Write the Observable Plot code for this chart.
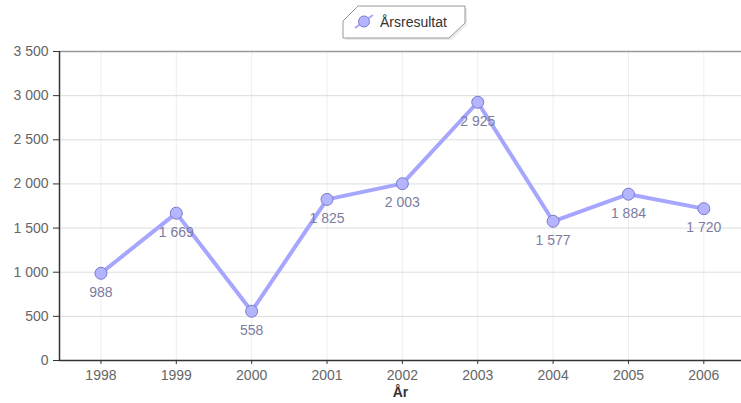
<!DOCTYPE html>
<html>
<head>
<meta charset="utf-8">
<script src="https://cdn.jsdelivr.net/npm/d3@7"></script>
<script src="https://cdn.jsdelivr.net/npm/@observablehq/plot@0.6"></script>
<style>
  html, body { margin: 0; padding: 0; background: #fff; }
  #wrap { position: relative; width: 741px; height: 403px; font-family: "Liberation Sans", Arial, sans-serif; }
  #legend { position: absolute; left: 341px; top: 3px; }
</style>
</head>
<body>
<div id="wrap">
  <div id="chart"></div>
  <div id="legend"></div>
</div>
<script>
const years = [1998, 1999, 2000, 2001, 2002, 2003, 2004, 2005, 2006];
const values = [988, 1669, 558, 1825, 2003, 2925, 1577, 1884, 1720];
const yTicks = [0, 500, 1000, 1500, 2000, 2500, 3000, 3500];
const seriesName = "Årsresultat";
const xLabel = "År";

const data = years.map((y, i) => ({ year: y, value: values[i] }));
const fmt = v => d3.format(",")(v).replace(/,/g, " ");

const lineColor = "#a6a6ff";
const pointFill = "#b4b4ff";
const pointStroke = "#7a7acc";
const labelColor = "#7c7ca0";

const chart = Plot.plot({
  width: 741,
  height: 403,
  marginLeft: 59,
  marginRight: 0,
  marginTop: 51,
  marginBottom: 43,
  style: { fontFamily: "Liberation Sans, Arial, sans-serif", fontSize: "14px", background: "#fff" },
  x: { type: "linear", domain: [1997.45, 2006.5], axis: null },
  y: { domain: [0, 3500], axis: null, label: null },
  marks: [
    Plot.ruleX(years, { x: d => d, y1: 0, y2: 3500, stroke: "#eeeeee", strokeWidth: 1 }),
    Plot.ruleY(yTicks.slice(1, -1), { y: d => d, x1: 1997.45, x2: 2006.5, stroke: "#dddddd", strokeWidth: 1 }),
    Plot.ruleY([3500], { y: d => d, x1: 1997.45, x2: 2006.5, stroke: "#999999", strokeWidth: 1.5 }),
    Plot.ruleY([0], { y: d => d, x1: 1997.45, x2: 2006.5, stroke: "#333333", strokeWidth: 1.5 }),
    Plot.ruleX([1997.45], { x: d => d, y1: 0, y2: 3500, stroke: "#333333", strokeWidth: 1.5 }),
    Plot.axisY({ ticks: yTicks, tickFormat: fmt, tickSize: 6, tickPadding: 5, stroke: "#333", color: "#666", fontSize: 14, anchor: "left", label: null }),
    Plot.axisX({ ticks: years, tickFormat: d => String(d), tickSize: 4, tickPadding: 6, stroke: "#333", color: "#666", fontSize: 14, label: null }),
    Plot.text([xLabel], { frameAnchor: "bottom", dy: 36, text: d => d, fontWeight: "bold", fontSize: 14, fill: "#333" }),
    Plot.line(data, { x: "year", y: "value", stroke: lineColor, strokeWidth: 4, strokeLinejoin: "round" }),
    Plot.dot(data, { x: "year", y: "value", r: 6, fill: pointFill, stroke: pointStroke, strokeWidth: 1 }),
    Plot.text(data, { x: "year", y: "value", text: d => fmt(d.value), dy: 19, fill: labelColor, fontSize: 14 })
  ]
});
document.getElementById("chart").appendChild(chart);

const lg = document.getElementById("legend");
lg.innerHTML = `
<svg width="130" height="40" xmlns="http://www.w3.org/2000/svg" style="overflow:visible">
  <polygon points="2,18 17,3 124,3 124,20 108,35 2,35" fill="#ddd" transform="translate(2,2)" opacity="0.6"/>
  <polygon points="2,18 17,3 124,3 124,20 108,35 2,35" fill="#fff" stroke="#999" stroke-width="1"/>
  <line x1="14" y1="25" x2="32" y2="12" stroke="${lineColor}" stroke-width="2"/>
  <circle cx="23" cy="18.5" r="5.5" fill="${pointFill}" stroke="${pointStroke}" stroke-width="1"/>
  <text x="39" y="23.5" font-family="Liberation Sans, Arial, sans-serif" font-size="14" fill="#333">${seriesName}</text>
</svg>`;
</script>
</body>
</html>
